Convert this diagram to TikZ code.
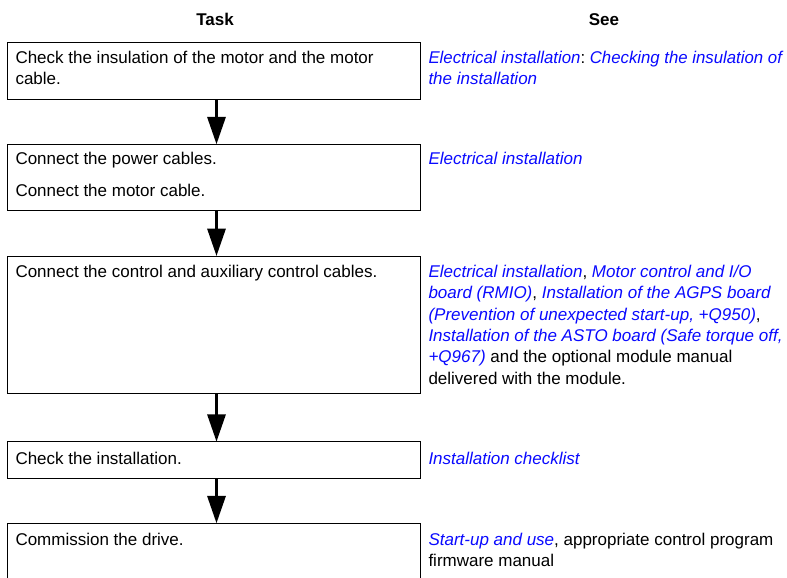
\documentclass[tikz,border=0pt]{standalone}
\usepackage{fontspec}
\setmainfont{Liberation Sans}
\usetikzlibrary{arrows.meta}
\frenchspacing
\definecolor{linkblue}{RGB}{10,10,255}
\newcommand\lnk[1]{\textcolor{linkblue}{\itshape #1}}
\tikzset{
  taskbox/.style={draw=black, line width=0.75pt, rectangle, inner sep=0pt, outer sep=0pt,
    anchor=north west, minimum width=309.75pt},
  txt/.style={inner sep=0pt, outer sep=0pt, anchor=base west, font=\fontsize{12.75pt}{16pt}\selectfont\frenchspacing},
  head/.style={inner sep=0pt, anchor=base, font=\fontsize{12.75pt}{16pt}\selectfont\bfseries},
  flowarrow/.style={line width=2.25pt, -{Triangle[width=13.5pt,length=20.5pt]}, shorten <=0.75pt}
}
\begin{document}
\begin{tikzpicture}[x=0.75pt,y=-0.75pt]
\clip (0,0) rectangle (787,577);
\fill[white] (0,0) rectangle (787,577);
% headers
\node[head] (hTask) at (215,26) {Task};
\node[head] (hSee) at (604,26) {See};
% boxes
\node[taskbox, minimum height=42.45pt] (b1) at (7.3,42.7) {};
\node[taskbox, minimum height=49.3pt] (b2) at (7.3,144.3) {};
\node[taskbox, minimum height=103pt] (b3) at (7.3,256) {};
\node[taskbox, minimum height=27.45pt] (b4) at (7.3,441.7) {};
\node[taskbox, minimum height=60pt] (b5) at (7.3,523.3) {};
% task texts
\node[txt] (t1a) at (15.5,64) {Check the insulation of the motor and the motor};
\node[txt] (t1b) at (15.5,85) {cable.};
\node[txt] (t2a) at (15.5,165) {Connect the power cables.};
\node[txt] (t2b) at (15.5,196) {Connect the motor cable.};
\node[txt] (t3a) at (15.5,277.5) {Connect the control and auxiliary control cables.};
\node[txt] (t4a) at (15.5,464) {Check the installation.};
\node[txt] (t5a) at (15.5,545) {Commission the drive.};
% see texts
\node[txt, xscale=0.987, transform shape] (s1a) at (428.5,64) {\lnk{Electrical installation}: \lnk{Checking the insulation of}};
\node[txt] (s1b) at (428.5,85) {\lnk{the installation}};
\node[txt] (s2a) at (428.5,165) {\lnk{Electrical installation}};
\node[txt] (s3a) at (428.5,277.5) {\lnk{Electrical installation}, \lnk{Motor control and I/O}};
\node[txt] (s3b) at (428.5,298.8) {\lnk{board (RMIO)}, \lnk{Installation of the AGPS board}};
\node[txt] (s3c) at (428.5,320.1) {\lnk{(Prevention of unexpected start-up, +Q950)},};
\node[txt] (s3d) at (428.5,341.4) {\lnk{Installation of the ASTO board (Safe torque off,}};
\node[txt] (s3e) at (428.5,362.7) {\lnk{+Q967)} and the optional module manual};
\node[txt] (s3f) at (428.5,384) {delivered with the module.};
\node[txt] (s4a) at (428.5,464) {\lnk{Installation checklist}};
\node[txt] (s5a) at (428.5,545) {\lnk{Start-up and use}, appropriate control program};
\node[txt] (s5b) at (428.5,566) {firmware manual};
% arrows
\coordinate (ax) at (216.5,0);
\draw[flowarrow] (b1.south -| ax) -- (b2.north -| ax);
\draw[flowarrow] (b2.south -| ax) -- (b3.north -| ax);
\draw[flowarrow] (b3.south -| ax) -- (b4.north -| ax);
\draw[flowarrow] (b4.south -| ax) -- (b5.north -| ax);
\end{tikzpicture}
\end{document}
